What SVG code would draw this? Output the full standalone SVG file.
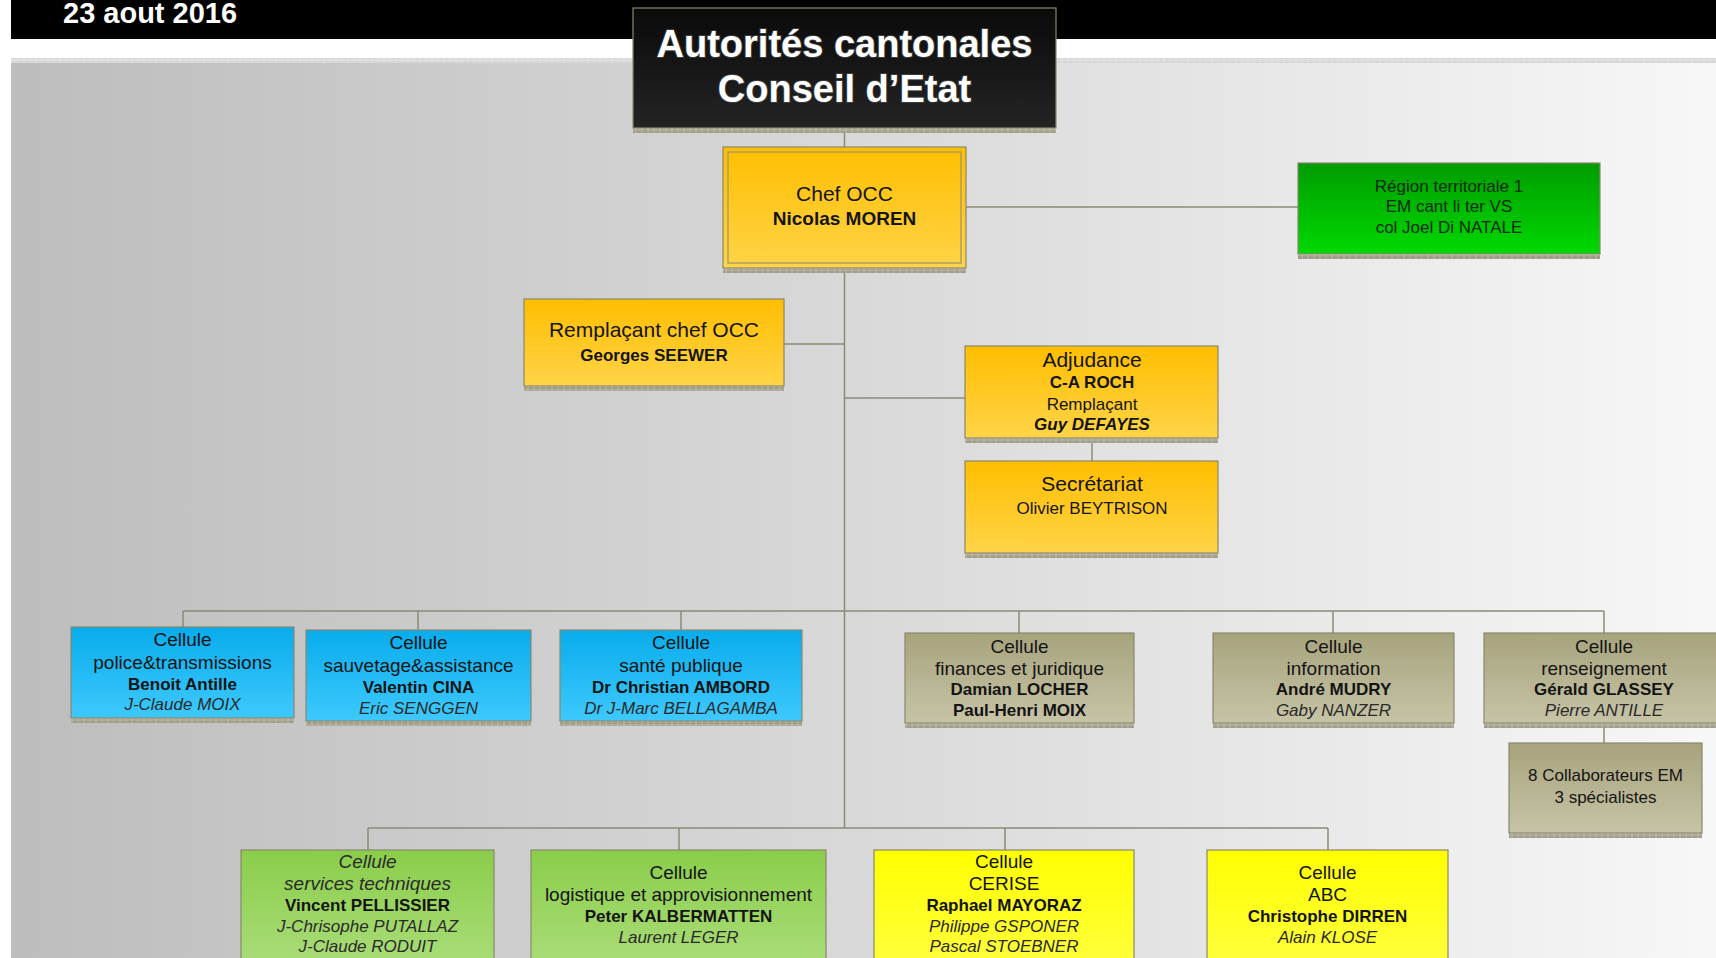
<svg xmlns="http://www.w3.org/2000/svg" width="1716" height="958" viewBox="0 0 1716 958">
<defs>
<linearGradient id="bg" x1="0" y1="0" x2="1" y2="0"><stop offset="0" stop-color="#bdbdbd"/><stop offset="0.5" stop-color="#d9d9d9"/><stop offset="1" stop-color="#f7f7f7"/></linearGradient>
<linearGradient id="gBlack" x1="0" y1="0" x2="0" y2="1"><stop offset="0" stop-color="#0a0a0a"/><stop offset="1" stop-color="#242424"/></linearGradient>
<linearGradient id="gOrange" x1="0" y1="0" x2="0" y2="1"><stop offset="0" stop-color="#ffbe00"/><stop offset="1" stop-color="#ffd448"/></linearGradient>
<linearGradient id="gGreen" x1="0" y1="0" x2="0" y2="1"><stop offset="0" stop-color="#009c00"/><stop offset="1" stop-color="#00d900"/></linearGradient>
<linearGradient id="gBlue" x1="0" y1="0" x2="0" y2="1"><stop offset="0" stop-color="#08acec"/><stop offset="1" stop-color="#3ec9fd"/></linearGradient>
<linearGradient id="gOlive" x1="0" y1="0" x2="0" y2="1"><stop offset="0" stop-color="#a7a37d"/><stop offset="1" stop-color="#c7c4a7"/></linearGradient>
<linearGradient id="gLime" x1="0" y1="0" x2="0" y2="1"><stop offset="0" stop-color="#8acd4a"/><stop offset="1" stop-color="#abdd7b"/></linearGradient>
<linearGradient id="gYellow" x1="0" y1="0" x2="0" y2="1"><stop offset="0" stop-color="#ffff00"/><stop offset="1" stop-color="#ffff40"/></linearGradient>
<pattern id="strip" patternUnits="userSpaceOnUse" width="6" height="5"><rect width="6" height="5" fill="#bcbaa8"/><rect x="0.5" y="0.5" width="5" height="4" fill="#a09e8a"/></pattern>
<pattern id="topstrip" patternUnits="userSpaceOnUse" width="6" height="5"><rect width="6" height="5" fill="#e6e6e6"/><rect x="0.5" y="0.5" width="5" height="4" fill="#d6d6d6"/></pattern>
</defs>
<style>
.box{stroke:#8a876c;stroke-width:1.2}
.strip{fill:url(#strip)}
.conn line{stroke:#8c8a74;stroke-width:1.5}
text{font-family:"Liberation Sans",Arial,sans-serif;text-anchor:middle;fill:#141414}
.t{font-size:38px;font-weight:bold;fill:#fff;stroke:#3a3a3a;stroke-width:2;paint-order:stroke}
.h{font-size:21px}
.m{font-size:19px}
.s{font-size:17px}
.b{font-weight:bold}
.i{font-style:italic;fill:#2a2a2a}
.g{fill:#0a2a0a}
</style>
<rect width="1716" height="958" fill="#ffffff"/>
<rect x="11" y="0" width="1705" height="39" fill="#000"/>
<text x="63" y="23" style="font-size:29px;font-weight:bold;fill:#fff;text-anchor:start">23 aout 2016</text>
<rect x="11" y="58" width="1705" height="900" fill="url(#bg)"/>
<rect x="11" y="58" width="1705" height="5" fill="url(#topstrip)"/>

<g class="conn">
<line x1="844.5" y1="128" x2="844.5" y2="828"/>
<line x1="966" y1="207" x2="1298" y2="207"/>
<line x1="784" y1="344" x2="844.5" y2="344"/>
<line x1="844.5" y1="398" x2="965" y2="398"/>
<line x1="1092" y1="438" x2="1092" y2="461"/>
<line x1="183" y1="611" x2="1604" y2="611"/>
<line x1="183" y1="611" x2="183" y2="627"/>
<line x1="418" y1="611" x2="418" y2="630"/>
<line x1="681" y1="611" x2="681" y2="630"/>
<line x1="1019" y1="611" x2="1019" y2="633"/>
<line x1="1333" y1="611" x2="1333" y2="633"/>
<line x1="1604" y1="611" x2="1604" y2="633"/>
<line x1="1604" y1="723" x2="1604" y2="743"/>
<line x1="368" y1="828" x2="1328" y2="828"/>
<line x1="368" y1="828" x2="368" y2="850"/>
<line x1="679" y1="828" x2="679" y2="850"/>
<line x1="1005" y1="828" x2="1005" y2="850"/>
<line x1="1328" y1="828" x2="1328" y2="850"/>
</g>

<g id="n-title">
<rect class="box" x="633" y="8" width="423" height="120" fill="url(#gBlack)"/>
<rect class="strip" x="633" y="128" width="423" height="5"/>
<text class="t" x="844.5" y="57">Autorités cantonales</text>
<text class="t" x="844.5" y="102">Conseil d’Etat</text>
</g>

<g id="n-chef">
<rect class="box" x="723" y="147" width="243" height="121" fill="url(#gOrange)"/>
<rect x="728" y="152" width="233" height="111" fill="none" stroke="#9a9470" stroke-width="1.2"/>
<rect class="strip" x="723" y="268" width="243" height="5"/>
<text class="h" x="844.5" y="201">Chef OCC</text>
<text class="m b" x="844.5" y="225">Nicolas MOREN</text>
</g>

<g id="n-region">
<rect class="box" x="1298" y="163" width="302" height="91" fill="url(#gGreen)"/>
<rect class="strip" x="1298" y="254" width="302" height="5"/>
<text class="s g" x="1449" y="192">Région territoriale 1</text>
<text class="s g" x="1449" y="212">EM cant li ter VS</text>
<text class="s g" x="1449" y="233">col Joel Di NATALE</text>
</g>

<g id="n-remplacant">
<rect class="box" x="524" y="299" width="260" height="87" fill="url(#gOrange)"/>
<rect class="strip" x="524" y="386" width="260" height="5"/>
<text class="h" x="654" y="337">Remplaçant chef OCC</text>
<text class="s b" x="654" y="361">Georges SEEWER</text>
</g>

<g id="n-adjudance">
<rect class="box" x="965" y="346" width="253" height="92" fill="url(#gOrange)"/>
<rect class="strip" x="965" y="438" width="253" height="5"/>
<text class="h" x="1092" y="367">Adjudance</text>
<text class="s b" x="1092" y="388">C-A ROCH</text>
<text class="s" x="1092" y="410">Remplaçant</text>
<text class="s b" x="1092" y="430" style="font-style:italic">Guy DEFAYES</text>
</g>

<g id="n-secretariat">
<rect class="box" x="965" y="461" width="253" height="92" fill="url(#gOrange)"/>
<rect class="strip" x="965" y="553" width="253" height="5"/>
<text class="h" x="1092" y="491">Secrétariat</text>
<text class="s" x="1092" y="514">Olivier BEYTRISON</text>
</g>

<g id="n-police">
<rect class="box" x="71" y="627" width="223" height="91" fill="url(#gBlue)"/>
<rect class="strip" x="71" y="718" width="223" height="5"/>
<text class="m" x="182.5" y="646">Cellule</text>
<text class="m" x="182.5" y="669">police&amp;transmissions</text>
<text class="s b" x="182.5" y="690">Benoit Antille</text>
<text class="s i" x="182.5" y="710">J-Claude MOIX</text>
</g>

<g id="n-sauvetage">
<rect class="box" x="306" y="630" width="225" height="91" fill="url(#gBlue)"/>
<rect class="strip" x="306" y="721" width="225" height="5"/>
<text class="m" x="418.5" y="649">Cellule</text>
<text class="m" x="418.5" y="672">sauvetage&amp;assistance</text>
<text class="s b" x="418.5" y="693">Valentin CINA</text>
<text class="s i" x="418.5" y="714">Eric SENGGEN</text>
</g>

<g id="n-sante">
<rect class="box" x="560" y="630" width="242" height="91" fill="url(#gBlue)"/>
<rect class="strip" x="560" y="721" width="242" height="5"/>
<text class="m" x="681" y="649">Cellule</text>
<text class="m" x="681" y="672">santé publique</text>
<text class="s b" x="681" y="693">Dr Christian AMBORD</text>
<text class="s i" x="681" y="714">Dr J-Marc BELLAGAMBA</text>
</g>

<g id="n-finances">
<rect class="box" x="905" y="633" width="229" height="90" fill="url(#gOlive)"/>
<rect class="strip" x="905" y="723" width="229" height="5"/>
<text class="m" x="1019.5" y="653">Cellule</text>
<text class="m" x="1019.5" y="675">finances et juridique</text>
<text class="s b" x="1019.5" y="695">Damian LOCHER</text>
<text class="s b" x="1019.5" y="716">Paul-Henri MOIX</text>
</g>

<g id="n-information">
<rect class="box" x="1213" y="633" width="241" height="90" fill="url(#gOlive)"/>
<rect class="strip" x="1213" y="723" width="241" height="5"/>
<text class="m" x="1333.5" y="653">Cellule</text>
<text class="m" x="1333.5" y="675">information</text>
<text class="s b" x="1333.5" y="695">André MUDRY</text>
<text class="s i" x="1333.5" y="716">Gaby NANZER</text>
</g>

<g id="n-renseignement">
<rect class="box" x="1484" y="633" width="240" height="90" fill="url(#gOlive)"/>
<rect class="strip" x="1484" y="723" width="240" height="5"/>
<text class="m" x="1604" y="653">Cellule</text>
<text class="m" x="1604" y="675">renseignement</text>
<text class="s b" x="1604" y="695">Gérald GLASSEY</text>
<text class="s i" x="1604" y="716">Pierre ANTILLE</text>
</g>

<g id="n-collaborateurs">
<rect class="box" x="1509" y="743" width="193" height="90" fill="url(#gOlive)"/>
<rect class="strip" x="1509" y="833" width="193" height="5"/>
<text class="s" x="1605.5" y="781">8 Collaborateurs EM</text>
<text class="s" x="1605.5" y="803">3 spécialistes</text>
</g>

<g id="n-services">
<rect class="box" x="241" y="850" width="253" height="120" fill="url(#gLime)"/>
<text class="m i" x="367.5" y="868">Cellule</text>
<text class="m i" x="367.5" y="890">services techniques</text>
<text class="s b" x="367.5" y="911">Vincent PELLISSIER</text>
<text class="s i" x="367.5" y="932">J-Chrisophe PUTALLAZ</text>
<text class="s i" x="367.5" y="952">J-Claude RODUIT</text>
</g>

<g id="n-logistique">
<rect class="box" x="531" y="850" width="295" height="120" fill="url(#gLime)"/>
<text class="m" x="678.5" y="879">Cellule</text>
<text class="m" x="678.5" y="901">logistique et approvisionnement</text>
<text class="s b" x="678.5" y="922">Peter KALBERMATTEN</text>
<text class="s i" x="678.5" y="943">Laurent LEGER</text>
</g>

<g id="n-cerise">
<rect class="box" x="874" y="850" width="260" height="120" fill="url(#gYellow)"/>
<text class="m" x="1004" y="868">Cellule</text>
<text class="m" x="1004" y="890">CERISE</text>
<text class="s b" x="1004" y="911">Raphael MAYORAZ</text>
<text class="s i" x="1004" y="932">Philippe GSPONER</text>
<text class="s i" x="1004" y="952">Pascal STOEBNER</text>
</g>

<g id="n-abc">
<rect class="box" x="1207" y="850" width="241" height="120" fill="url(#gYellow)"/>
<text class="m" x="1327.5" y="879">Cellule</text>
<text class="m" x="1327.5" y="901">ABC</text>
<text class="s b" x="1327.5" y="922">Christophe DIRREN</text>
<text class="s i" x="1327.5" y="943">Alain KLOSE</text>
</g>
</svg>
